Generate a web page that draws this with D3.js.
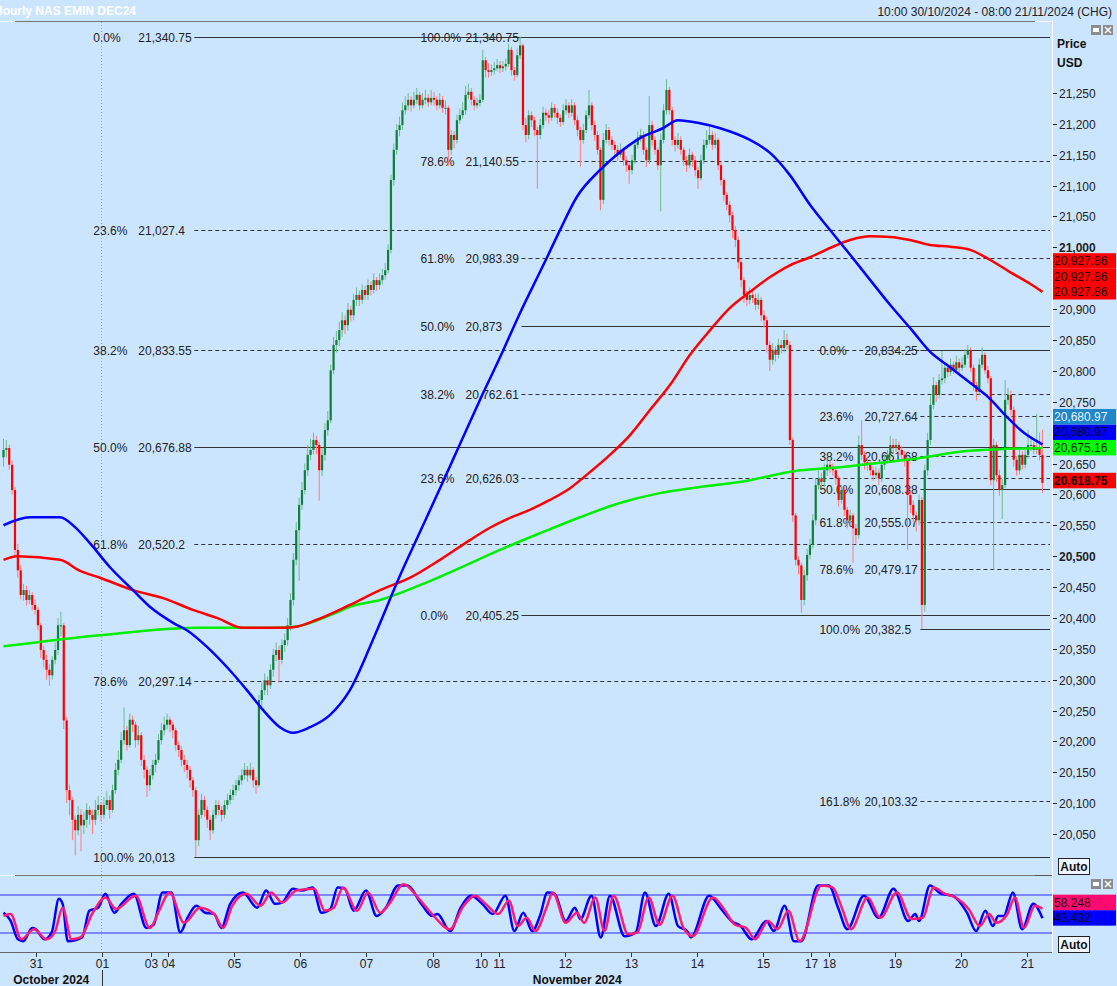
<!DOCTYPE html>
<html><head><meta charset="utf-8">
<script src="https://cdn.jsdelivr.net/npm/d3@7"></script>
<style>
html,body{margin:0;padding:0;background:#cce5ff;}
svg{display:block;font-family:"Liberation Sans",Arial,sans-serif;}
</style></head><body>
<svg id="c" width="1117" height="986"></svg>
<script>
// ---------- DATA ----------
const firstOpen = 20660;
const closes = [
20672,20675,20648,20607,20510,20477,20437,20445,20429,20437,
20421,20413,20388,20348,20332,20316,20307,20332,20348,20388,
20388,20234,20121,20105,20073,20056,20081,20064,20073,20089,
20081,20073,20089,20097,20081,20097,20105,20089,20121,20154,
20170,20202,20218,20194,20235,20227,20202,20210,20170,20154,
20129,20145,20162,20170,20202,20218,20227,20235,20227,20218,
20194,20186,20170,20162,20154,20137,20121,20040,20081,20105,
20089,20073,20056,20081,20097,20089,20081,20097,20105,20113,
20121,20129,20137,20145,20154,20145,20154,20137,20129,20267,
20283,20299,20291,20316,20340,20348,20332,20356,20364,20388,
20429,20494,20542,20583,20607,20639,20664,20672,20688,20680,
20639,20664,20704,20720,20801,20842,20850,20866,20882,20874,
20899,20890,20915,20923,20915,20931,20923,20939,20931,20947,
20939,20947,20955,20963,20996,21109,21158,21190,21198,21222,
21230,21239,21230,21239,21247,21230,21239,21242,21235,21242,
21239,21230,21239,21226,21226,21158,21182,21174,21206,21214,
21222,21247,21252,21239,21230,21234,21239,21303,21287,21284,
21287,21290,21295,21290,21293,21297,21320,21287,21279,21311,
21327,21198,21182,21214,21206,21190,21182,21198,21218,21214,
21210,21226,21218,21210,21203,21222,21230,21218,21230,21206,
21190,21174,21190,21214,21230,21198,21182,21158,21077,21174,
21190,21174,21166,21158,21150,21158,21141,21133,21125,21141,
21166,21178,21182,21158,21141,21198,21174,21158,21133,21174,
21222,21255,21222,21174,21166,21174,21158,21141,21133,21150,
21141,21125,21112,21141,21166,21174,21182,21166,21174,21133,
21109,21085,21069,21052,21028,21012,20976,20947,20923,20915,
20923,20918,20907,20915,20890,20882,20842,20818,20834,20826,
20842,20837,20850,20842,20688,20566,20494,20485,20429,20469,
20502,20518,20558,20615,20626,20620,20639,20648,20643,20639,
20626,20591,20607,20575,20558,20566,20545,20534,20680,20664,
20652,20648,20639,20631,20635,20626,20648,20656,20664,20680,
20675,20680,20672,20664,20656,20599,20583,20566,20558,20591,
20421,20639,20688,20745,20777,20761,20785,20788,20805,20798,
20810,20801,20814,20805,20810,20826,20834,20805,20777,20766,
20810,20826,20801,20788,20623,20680,20631,20607,20615,20753,
20761,20737,20656,20639,20664,20648,20664,20680,20680,20672,
20675,20664,20618.75];
const highs = [
20690,20688,20680,20655,20612,20520,20485,20455,20452,20445,
20442,20430,20418,20392,20355,20340,20325,20338,20360,20400,
20410,20392,20240,20130,20110,20080,20095,20090,20085,20100,
20095,20090,20105,20112,20102,20110,20120,20112,20130,20165,
20185,20215,20255,20225,20245,20242,20232,20225,20215,20178,
20160,20155,20170,20180,20212,20230,20240,20245,20240,20232,
20222,20200,20192,20178,20170,20160,20142,20126,20090,20115,
20112,20095,20080,20090,20105,20104,20095,20105,20115,20122,
20130,20138,20145,20155,20165,20160,20165,20158,20142,20275,
20295,20310,20305,20325,20350,20360,20355,20365,20375,20400,
20440,20505,20555,20595,20620,20650,20680,20690,20700,20695,
20685,20675,20715,20735,20810,20855,20865,20880,20895,20890,
20910,20905,20925,20935,20930,20940,20938,20948,20945,20958,
20952,20958,20965,20975,21005,21118,21168,21200,21212,21235,
21245,21250,21245,21252,21258,21252,21250,21255,21248,21255,
21252,21245,21250,21245,21238,21230,21190,21188,21215,21225,
21235,21262,21265,21258,21245,21242,21248,21320,21308,21298,
21296,21300,21305,21302,21302,21306,21330,21325,21292,21322,
21340.75,21330,21210,21222,21220,21212,21195,21208,21228,21225,
21222,21235,21232,21225,21215,21232,21240,21235,21240,21235,
21212,21195,21200,21222,21255,21235,21205,21188,21162,21185,
21200,21195,21180,21172,21165,21168,21162,21148,21138,21150,
21175,21188,21192,21188,21162,21245,21205,21180,21162,21185,
21232,21272,21260,21228,21180,21185,21180,21162,21148,21160,
21155,21148,21130,21150,21175,21190,21195,21188,21185,21178,
21138,21112,21090,21075,21058,21035,21018,20980,20952,20930,
20935,20930,20925,20925,20920,20898,20888,20848,20845,20840,
20852,20850,20866,20860,20848,20692,20570,20500,20490,20478,
20512,20528,20568,20625,20640,20635,20650,20658,20655,20650,
20645,20630,20615,20612,20580,20575,20570,20552,20695,20720,
20670,20660,20655,20645,20645,20642,20655,20665,20672,20695,
20690,20690,20686,20678,20670,20660,20605,20590,20572,20600,
20596,20648,20700,20760,20790,20782,20795,20832,20815,20812,
20820,20815,20825,20820,20822,20835,20842,20838,20810,20782,
20820,20838,20830,20808,20792,20690,20685,20640,20625,20785,
20772,20768,20742,20662,20672,20670,20672,20705,20690,20685,
20730,20700,20705];
const lows = [
20645,20660,20640,20600,20500,20465,20430,20428,20420,20422,
20412,20405,20380,20335,20320,20300,20290,20300,20325,20340,
20370,20220,20100,20080,20040,20015,20048,20022,20050,20060,
20065,20050,20065,20080,20070,20075,20090,20075,20085,20115,
20145,20165,20195,20185,20190,20215,20190,20195,20160,20140,
20110,20120,20138,20150,20165,20195,20210,20220,20215,20205,
20185,20175,20160,20150,20140,20125,20110,20013,20030,20075,
20078,20060,20040,20050,20075,20080,20070,20075,20090,20098,
20105,20112,20120,20130,20138,20135,20140,20125,20115,20125,
20255,20275,20275,20285,20305,20330,20295,20325,20345,20355,
20380,20420,20485,20460,20575,20600,20630,20655,20665,20665,
20590,20630,20655,20695,20715,20795,20830,20840,20855,20860,
20865,20880,20882,20905,20905,20908,20915,20915,20922,20925,
20930,20932,20940,20948,20958,20990,21100,21150,21180,21190,
21215,21222,21220,21225,21232,21222,21225,21232,21228,21230,
21230,21222,21225,21218,21215,21132,21150,21160,21168,21200,
21208,21215,21240,21230,21222,21225,21228,21235,21275,21275,
21278,21280,21285,21282,21284,21286,21292,21278,21270,21275,
21305,21190,21170,21175,21195,21180,21095,21175,21192,21205,
21200,21205,21210,21200,21195,21198,21215,21210,21212,21198,
21180,21130,21168,21185,21208,21190,21172,21150,21060,21070,
21168,21165,21158,21150,21140,21145,21132,21122,21103,21118,
21135,21160,21170,21150,21130,21135,21165,21150,21125,21058,
21168,21215,21215,21165,21155,21160,21150,21132,21122,21128,
21130,21115,21095,21108,21135,21160,21168,21158,21160,21125,
21100,21075,21060,21040,21015,21000,20965,20935,20910,20905,
20908,20910,20898,20900,20880,20870,20830,20800,20810,20815,
20820,20828,20830,20835,20680,20555,20485,20470,20408,20420,
20460,20495,20512,20550,20608,20610,20612,20630,20635,20630,
20615,20580,20585,20565,20545,20550,20489,20520,20528,20655,
20640,20638,20630,20622,20625,20615,20620,20640,20650,20658,
20665,20668,20662,20655,20645,20510,20570,20555,20540,20550,
20382.5,20410,20630,20680,20738,20750,20755,20778,20780,20790,
20792,20795,20798,20798,20800,20805,20820,20798,20768,20752,
20760,20805,20795,20780,20615,20478,20620,20598,20560,20610,
20745,20728,20645,20630,20632,20640,20642,20658,20670,20665,
20665,20655,20602];

// moving averages: [bar index, price]
const maBlue = [[0,20550],[9.2,20563],[19.7,20563],[24.9,20547],[30.1,20521],[37.1,20482],[45.1,20445],[51,20418],[59.1,20392],[63.9,20380],[70.9,20353],[77.9,20320],[84.8,20283],[90.4,20251],[96.3,20223],[100.9,20214],[106.8,20223],[113.8,20243],[120.7,20283],[129.4,20372],[138.2,20469],[145.1,20539],[152.1,20610],[159.1,20682],[166,20753],[173,20822],[179.3,20887],[189.4,20984],[193.9,21028],[199.8,21082],[207.8,21125],[213.7,21150],[221.8,21177],[229.8,21193],[235,21206],[242.7,21201],[249.7,21193],[260.1,21174],[267.1,21153],[274,21117],[281,21069],[288,21028],[295,20988],[302,20947],[308.9,20907],[316.5,20866],[322.8,20831],[329.8,20806],[337.8,20777],[343,20758],[349.7,20725],[355.2,20701],[362,20680.97]];
const maRed = [[0,20494],[4.7,20500],[19.7,20494],[26.7,20476],[33.6,20465],[45.1,20445],[55.6,20432],[66,20413],[74.4,20400],[83.4,20384],[95.3,20384],[100.9,20385],[109.2,20397],[120.7,20421],[131.2,20445],[141.7,20465],[152.1,20494],[162.5,20526],[169.5,20546],[176.5,20562],[183.4,20575],[190.4,20591],[197.4,20610],[204.3,20636],[211.3,20664],[218.3,20696],[225.3,20737],[232.2,20777],[239.2,20826],[246.2,20866],[253.1,20902],[260.1,20928],[267.1,20952],[274,20971],[281,20984],[288,20999],[295,21012],[302,21018],[308.9,21017],[315.9,21012],[322.8,21004],[329.8,21001],[336.8,20996],[343.7,20980],[350.7,20960],[357.7,20941],[362,20927.86]];
const maGreen = [[0,20354],[33.6,20372],[68.5,20384],[85.9,20384],[99.8,20385],[114.8,20406],[120.7,20418],[131.2,20429],[145.1,20453],[159.1,20481],[173,20510],[186.9,20537],[200.9,20563],[214.8,20586],[228.7,20602],[242.7,20612],[256.6,20620],[277.5,20639],[291.5,20644],[305.4,20651],[319.4,20659],[333.3,20669],[347.2,20673],[362,20675.16]];

// stochastic: [bar index, value]
const stochK = [[0,52],[2.5,39],[5,10],[6.9,7],[10,28],[11.2,26],[14.3,10],[16.8,21],[19.3,74],[20.6,66],[22.4,7],[27.4,13],[29.9,55],[33,60],[35.5,82],[38.6,52],[41.1,66],[45.4,82],[49.8,28],[52.3,33],[55.4,84],[58.5,84],[61.6,21],[64.1,44],[67.2,63],[70.3,52],[73.4,50],[75.9,28],[79,66],[83.4,84],[88.4,60],[91.5,87],[94.6,66],[97.1,68],[100.8,90],[103.9,87],[107.7,92],[110.8,52],[113.9,58],[116.4,92],[118.9,90],[122,55],[126.3,87],[130,47],[133.2,60],[137.5,95],[140.6,95],[145.6,66],[149.3,47],[151.2,50],[155.6,23],[159.3,60],[163,79],[166.8,66],[170.5,50],[174.9,79],[178,23],[181.1,52],[184.2,23],[187,48],[189.5,84],[192,82],[195.9,39],[199.1,60],[201,42],[204.9,79],[208.1,13],[211.3,79],[216.4,15],[220.3,21],[223.5,84],[227.3,31],[231.8,82],[235,31],[238.2,23],[239.5,13],[245.9,79],[249.7,60],[253.6,39],[256.8,31],[260.7,10],[265.8,39],[268.4,23],[272.2,63],[275.4,7],[278,7],[283.8,95],[287.6,95],[290.8,60],[294,26],[299.8,79],[304.9,44],[310.1,90],[315.2,39],[317.7,50],[319,39],[322.8,95],[326.7,82],[330.6,79],[335.7,52],[338.9,23],[342.1,55],[344.7,31],[346.6,47],[348.5,47],[351.7,84],[354.9,26],[358.8,66],[362,43.432]];
const stochD = [[0,47],[2.5,50],[6.2,10],[10.6,26],[15,10],[18,23],[20.6,60],[23.7,10],[26.8,13],[31.1,52],[35.5,76],[39.2,58],[46.1,79],[51,28],[54.2,55],[57.9,84],[62.9,36],[68.5,60],[73.4,50],[76.6,28],[79.7,63],[84.6,82],[89.6,63],[93.3,84],[97.1,68],[102,87],[108.3,90],[112,55],[115.1,60],[118.3,92],[123.2,55],[127,84],[131.3,52],[134.4,66],[139.4,97],[144.4,76],[149.3,50],[155.6,26],[159.9,60],[164.3,79],[168,66],[172.4,50],[176.1,71],[179.2,31],[182.3,44],[185.4,23],[189.2,60],[191.4,84],[195.9,36],[199.8,52],[202.3,36],[206.2,76],[209.4,23],[212.6,79],[217.7,18],[220.9,21],[224.8,76],[228.6,33],[233.1,79],[236.9,28],[240.1,15],[247.2,76],[251,58],[254.9,33],[258.7,28],[261.9,10],[266.4,39],[269.7,26],[273.5,55],[277.4,7],[285,95],[288.9,92],[292.1,60],[295.3,26],[301.1,76],[305.5,44],[311.3,84],[316.4,42],[320.3,44],[324.1,92],[328,82],[331.8,76],[336.3,58],[340.2,31],[343.4,50],[345.9,36],[349.8,50],[352.4,76],[355.6,28],[359.4,63],[362,58.248]];

// fibonacci sets
const fibAPct = [0,23.6,38.2,50,61.8,78.6,100];
const fibAVal = [21340.75,21027.4,20833.55,20676.88,20520.2,20297.14,20013];
const fibAStart = 67;
const fibBPct = [100,78.6,61.8,50,38.2,23.6,0];
const fibBVal = [21340.75,21140.55,20983.39,20873,20762.61,20626.03,20405.25];
const fibBStart = 181;
const fibCPct = [0,23.6,38.2,50,61.8,78.6,100,161.8];
const fibCVal = [20834.25,20727.64,20661.68,20608.38,20555.07,20479.17,20382.5,20103.32];
const fibCStart = 320;

// axis
const priceTicks = d3.range(20050, 21251, 50);
const boldTicks = [21000, 20500];
const dayLabels = ["31","01","03","04","05","06","07","08","10","11","12","13","14","15","17","18","19","20","21"];
const dayStarts = [12,35,52,58,81,104,127,150,167,173,196,219,242,265,282,288,311,334,357];
const monthLabels = ["October 2024","November 2024"];
const monthStarts = [0,35];
const cursorBar = 34;

const lastRed = 20927.86, lastBlue = 20680.97, lastGreen = 20675.16, lastPrice = 20618.75;
const lastD = 58.248, lastK = 43.432;

const titleText = "Hourly NAS EMIN DEC24";
const rangeText = "10:00 30/10/2024 - 08:00 21/11/2024 (CHG)";

// ---------- DRAW ----------
const W = 1117, H = 986, PR = 1052;
const svg = d3.select("#c");
const BG = "#cce5ff";
svg.append("rect").attr("width", W).attr("height", H).attr("fill", BG);

const x = d3.scaleLinear().domain([0, 362]).range([3.5, 3.5 + 362 * 2.87]);
const y = d3.scaleLinear().domain([20050, 21250]).range([834, 93]);
const ys = d3.scaleLinear().domain([20, 80]).range([933, 895]);

const defs = svg.append("defs");
defs.append("clipPath").attr("id", "cm").append("rect").attr("x", 0).attr("y", 22).attr("width", PR).attr("height", 853);
defs.append("clipPath").attr("id", "cs").append("rect").attr("x", 0).attr("y", 876).attr("width", PR).attr("height", 76);

// header lines
svg.append("line").attr("x1", 0).attr("x2", 15).attr("y1", 21.5).attr("y2", 21.5).attr("stroke", "#fff");
svg.append("line").attr("x1", 15).attr("x2", 1035).attr("y1", 21.5).attr("y2", 21.5).attr("stroke", "#777");
svg.append("line").attr("x1", 1035).attr("x2", PR).attr("y1", 21.5).attr("y2", 21.5).attr("stroke", "#fff");
svg.append("line").attr("x1", 0).attr("x2", 15).attr("y1", 875.5).attr("y2", 875.5).attr("stroke", "#fff");
svg.append("line").attr("x1", 15).attr("x2", 1035).attr("y1", 875.5).attr("y2", 875.5).attr("stroke", "#777");
svg.append("line").attr("x1", 1035).attr("x2", PR).attr("y1", 875.5).attr("y2", 875.5).attr("stroke", "#555");
svg.append("line").attr("x1", PR + 0.5).attr("x2", PR + 0.5).attr("y1", 21).attr("y2", 952).attr("stroke", "#fff");
svg.append("line").attr("x1", 0).attr("x2", PR).attr("y1", 952.5).attr("y2", 952.5).attr("stroke", "#666");

// titles
svg.append("text").attr("x", -6).attr("y", 15).attr("font-size", 12).attr("font-weight", "bold").attr("fill", "#fff").text(titleText);
svg.append("text").attr("x", 1112).attr("y", 16).attr("font-size", 12).attr("text-anchor", "end").attr("fill", "#222").text(rangeText);

// cursor line
svg.append("line").attr("x1", Math.round(x(cursorBar)) + 0.5).attr("x2", Math.round(x(cursorBar)) + 0.5)
  .attr("y1", 22).attr("y2", 952).attr("stroke", "#55d69a").attr("stroke-dasharray", "1,2");

const gm = svg.append("g").attr("clip-path", "url(#cm)");

// fib
function fibSet(pcts, vals, start) {
  const x0 = x(start) - 1.5;
  pcts.forEach((p, k) => {
    const yy = Math.round(y(vals[k])) + 0.5;
    const solid = (p === 0 || p === 50 || p === 100);
    gm.append("line").attr("x1", x0).attr("x2", 1050).attr("y1", yy).attr("y2", yy)
      .attr("stroke", "#333").attr("stroke-width", 1).attr("stroke-dasharray", solid ? null : "4,3");
    gm.append("text").attr("x", x0 - 101).attr("y", yy + 4).attr("font-size", 12).attr("fill", "#222").text(d3.format(".1f")(p) + "%");
    gm.append("text").attr("x", x0 - 56).attr("y", yy + 4).attr("font-size", 12).attr("fill", "#222").text(d3.format(",")(vals[k]));
  });
}
fibSet(fibAPct, fibAVal, fibAStart);
fibSet(fibBPct, fibBVal, fibBStart);
fibSet(fibCPct, fibCVal, fibCStart);

// candles
const bars = closes.map((c, i) => ({ i, o: i ? closes[i - 1] : firstOpen, h: highs[i], l: lows[i], c }));
const up = d => d.c >= d.o;
gm.selectAll("line.wick").data(bars).join("line").attr("class", "wick")
  .attr("x1", d => x(d.i)).attr("x2", d => x(d.i))
  .attr("y1", d => y(d.h)).attr("y2", d => y(d.l))
  .attr("stroke", d => up(d) ? "#6fbb8c" : "#ff7a7a").attr("stroke-width", 1);
gm.selectAll("rect.body").data(bars).join("rect").attr("class", "body")
  .attr("x", d => x(d.i) - 1.1).attr("width", 2.2)
  .attr("y", d => y(Math.max(d.o, d.c)))
  .attr("height", d => Math.max(1, Math.abs(y(d.o) - y(d.c))))
  .attr("fill", d => up(d) ? "#0e8038" : "#ff0000");

// MAs
const line = d3.line().x(d => x(d[0])).y(d => y(d[1])).curve(d3.curveMonotoneX);
gm.append("path").attr("d", line(maGreen)).attr("fill", "none").attr("stroke", "#00ee00").attr("stroke-width", 2.5);
gm.append("path").attr("d", line(maRed)).attr("fill", "none").attr("stroke", "#ff0000").attr("stroke-width", 2.5);
gm.append("path").attr("d", line(maBlue)).attr("fill", "none").attr("stroke", "#0000ff").attr("stroke-width", 2.5);

// stochastic
const gs = svg.append("g").attr("clip-path", "url(#cs)");
[80, 20].forEach(v => gs.append("line").attr("x1", 0).attr("x2", PR).attr("y1", ys(v)).attr("y2", ys(v)).attr("stroke", "#2a2aff").attr("stroke-width", 1.2));
const sline = d3.line().x(d => x(d[0])).y(d => ys(d[1])).curve(d3.curveMonotoneX);
gs.append("path").attr("d", sline(stochK)).attr("fill", "none").attr("stroke", "#0000ff").attr("stroke-width", 2.5);
gs.append("path").attr("d", sline(stochD)).attr("fill", "none").attr("stroke", "#ff1a75").attr("stroke-width", 2.5);

// right axis value boxes (computed first so hidden ticks can be skipped)
const fmt2 = d3.format(",.2f");
const boxes = [];
const yr = y(lastRed) + 7.5;
for (let k = 0; k < 3; k++) boxes.push([yr - 15.4 * (3 - k), "#ff0000", "#260000", fmt2(lastRed), false]);
const yg = y(lastGreen) - 8;
boxes.push([yg, "#00ff00", "#002200", fmt2(lastGreen), false]);
boxes.push([yg - 15.5, "#0000ff", "#000022", fmt2(lastBlue), false]);
boxes.push([yg - 31, "#1f86c8", "#e8f4ff", fmt2(lastBlue), false]);
boxes.push([y(lastPrice) - 10, "#ff0000", "#220000", fmt2(lastPrice), true]);
const yk = ys(lastK) - 8;
boxes.push([yk, "#0000ff", "#000022", d3.format(".3f")(lastK), false]);
boxes.push([yk - 15.5, "#ff0a6e", "#2a0010", d3.format(".3f")(lastD), false]);

const ga = svg.append("g");
priceTicks.forEach(v => {
  const yy = Math.round(y(v)) + 0.5;
  ga.append("line").attr("x1", PR + 1).attr("x2", PR + 5).attr("y1", yy).attr("y2", yy).attr("stroke", "#222");
  const hidden = boxes.some(b => yy > b[0] - 1 && yy < b[0] + 16.5);
  if (!hidden) ga.append("text").attr("x", 1059).attr("y", yy + 4).attr("font-size", 12).attr("fill", "#222")
    .attr("font-weight", boldTicks.includes(v) ? "bold" : null).text(d3.format(",")(v));
});
ga.append("text").attr("x", 1057).attr("y", 48).attr("font-size", 12).attr("font-weight", "bold").attr("fill", "#111").text("Price");
ga.append("text").attr("x", 1057).attr("y", 67).attr("font-size", 12).attr("font-weight", "bold").attr("fill", "#111").text("USD");

boxes.forEach(b => {
  ga.append("rect").attr("x", PR + 1).attr("y", b[0]).attr("width", W - PR - 2).attr("height", 15.5).attr("fill", b[1]);
  ga.append("text").attr("x", PR + 2).attr("y", b[0] + 12).attr("font-size", 12).attr("fill", b[2])
    .attr("font-weight", b[4] ? "bold" : null).text(b[3]);
});

function autoBtn(top) {
  ga.append("rect").attr("x", 1058.5).attr("y", top + 0.5).attr("width", 31).attr("height", 16).attr("fill", "#eef5ff").attr("stroke", "#222");
  ga.append("text").attr("x", 1074).attr("y", top + 13).attr("text-anchor", "middle").attr("font-size", 12).attr("font-weight", "bold").attr("fill", "#111").text("Auto");
}
autoBtn(858);
autoBtn(936);
function icons(top) {
  ga.append("rect").attr("x", 1091).attr("y", top).attr("width", 10).attr("height", 10).attr("fill", "#8c8c8c");
  ga.append("rect").attr("x", 1093).attr("y", top + 3).attr("width", 6).attr("height", 4).attr("fill", "#fff");
  ga.append("rect").attr("x", 1103).attr("y", top).attr("width", 10).attr("height", 10).attr("fill", "#8c8c8c");
  ga.append("path").attr("d", `M${1105},${top + 2}L${1111},${top + 8}M${1111},${top + 2}L${1105},${top + 8}`).attr("stroke", "#fff").attr("stroke-width", 1.5);
}
icons(25);
icons(879);

// x axis
const gx = svg.append("g");
dayStarts.forEach((s, k) => {
  const xx = Math.round(x(s) - 1.5) + 0.5;
  gx.append("line").attr("x1", xx).attr("x2", xx).attr("y1", 953).attr("y2", 957).attr("stroke", "#333");
  gx.append("text").attr("x", xx).attr("y", 968).attr("text-anchor", "middle").attr("font-size", 12).attr("fill", "#222").text(dayLabels[k]);
});
const monthEdges = monthStarts.map(s => s === 0 ? 0 : x(s) - 1.5).concat([PR]);
monthLabels.forEach((m, k) => {
  const cx = (monthEdges[k] + monthEdges[k + 1]) / 2;
  gx.append("text").attr("x", cx).attr("y", 984).attr("text-anchor", "middle").attr("font-size", 12).attr("font-weight", "bold").attr("fill", "#111").text(m);
  if (k > 0) gx.append("line").attr("x1", Math.round(monthEdges[k]) + 0.5).attr("x2", Math.round(monthEdges[k]) + 0.5).attr("y1", 970).attr("y2", 986).attr("stroke", "#333");
});
</script>
</body></html>
